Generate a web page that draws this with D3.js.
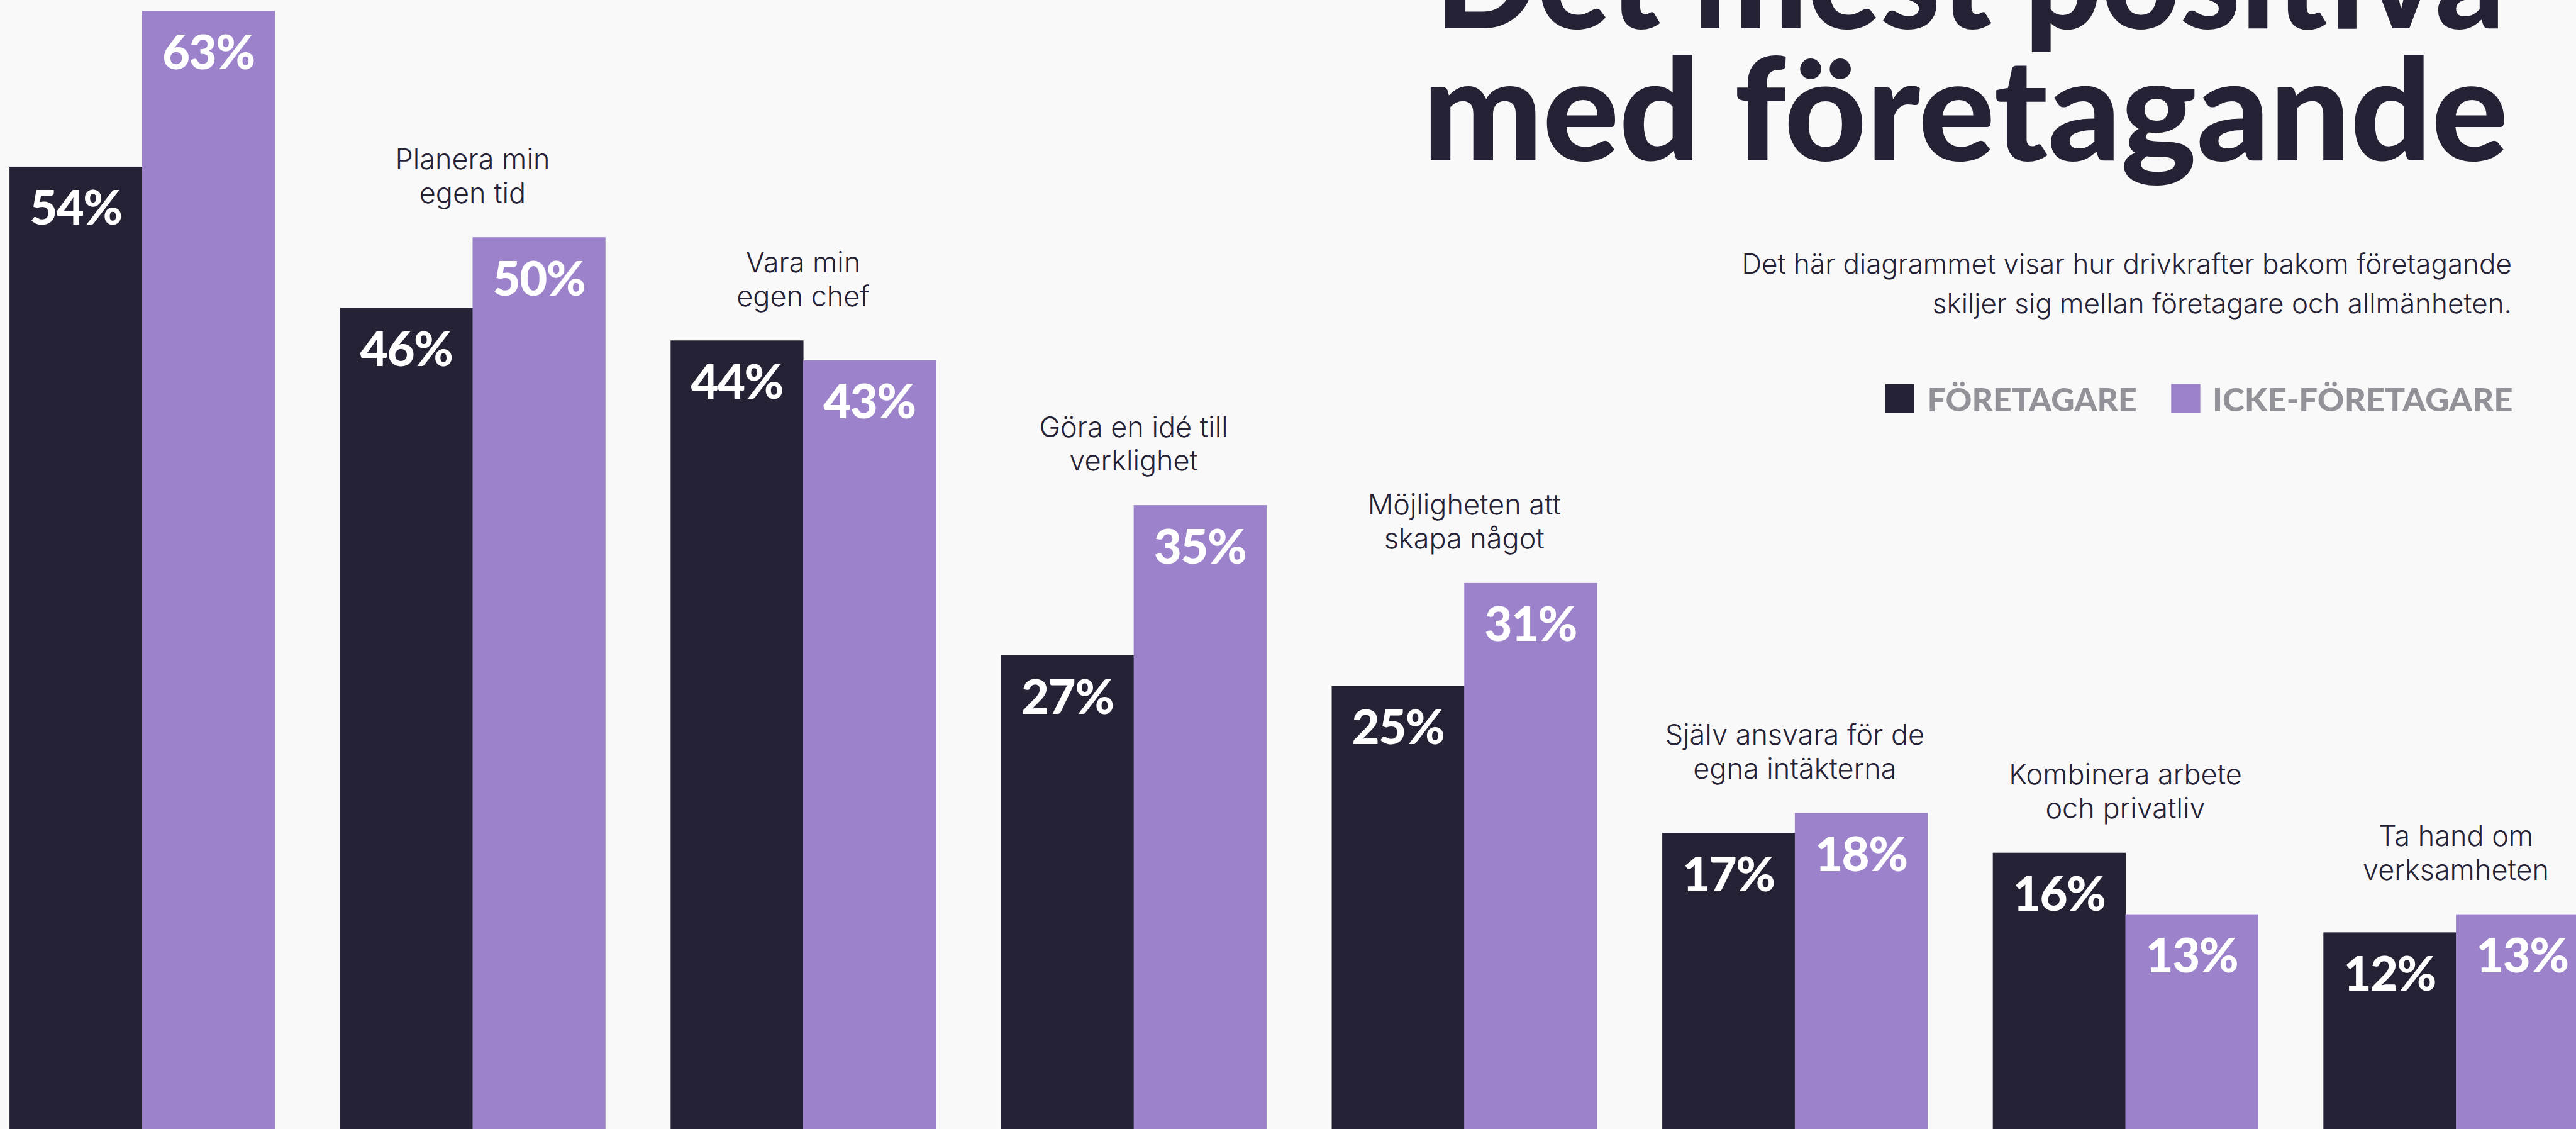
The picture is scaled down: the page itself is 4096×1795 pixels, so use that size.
<!DOCTYPE html>
<html><head><meta charset="utf-8">
<script src="https://cdn.jsdelivr.net/npm/d3@7"></script>
<style>html,body{margin:0;padding:0;background:#f9f9fa;overflow:hidden}</style>
</head><body><svg id="c" width="4096" height="1795"></svg>
<script>
// ---- data ----
const categories = [
  "",
  "Planera min\negen tid",
  "Vara min\negen chef",
  "Göra en idé till\nverklighet",
  "Möjligheten att\nskapa något",
  "Själv ansvara för de\negna intäkterna",
  "Kombinera arbete\noch privatliv",
  "Ta hand om\nverksamheten"
];
const seriesNames = ["FÖRETAGARE", "ICKE-FÖRETAGARE"];
const foretagare     = [53.9, 46.1, 44.3, 26.9, 25.2, 17.1, 16.0, 11.6];
const ickeForetagare = [62.5, 50.0, 43.2, 35.2, 30.9, 18.2, 12.6, 12.6];
const titleLines = ["Det mest positiva", "med företagande"];
const subtitleLines = ["Det här diagrammet visar hur drivkrafter bakom företagande",
                       "skiljer sig mellan företagare och allmänheten."];

// ---- style ----
const W = 4096, H = 1795;
const colors = ["#262235", "#9b82cb"];
const ink = "#262235";
const svg = d3.select("#c");
svg.append("rect").attr("width", W).attr("height", H).attr("fill", "#f9f9fa");

const rows = categories.map((c, i) => ({cat: c, idx: i, vals: [foretagare[i], ickeForetagare[i]]}));

const step = 525.6, pIn = 0.198, x0 = 15.1;
const x = d3.scaleBand().domain(d3.range(categories.length))
  .range([x0, x0 + step * (categories.length - pIn)])
  .paddingInner(pIn).paddingOuter(0);
const xs = d3.scaleBand().domain([0, 1]).range([0, x.bandwidth()]).padding(0);
const y = d3.scaleLinear().domain([0, 60]).range([1816.2, 1816.2 - 60 * 28.78]);

const g = svg.append("g").selectAll("g").data(rows).join("g")
  .attr("transform", d => `translate(${x(d.idx)},0)`);

g.selectAll("rect").data(d => d.vals.map((v, s) => ({v, s}))).join("rect")
  .attr("x", d => xs(d.s)).attr("width", xs.bandwidth() + 0.5)
  .attr("y", d => y(d.v)).attr("height", d => H + 50 - y(d.v))
  .attr("fill", d => colors[d.s]);

g.selectAll("text.val").data(d => d.vals.map((v, s) => ({v, s}))).join("text")
  .attr("class", "val")
  .attr("x", d => xs(d.s) + xs.bandwidth() / 2)
  .attr("y", d => y(d.v) + 92.5)
  .attr("text-anchor", "middle")
  .attr("font-family", "Lato, 'Noto Sans', sans-serif")
  .attr("font-weight", 900).attr("font-size", 76)
  .attr("letter-spacing", -1.5)
  .attr("fill", "#ffffff")
  .text(d => Math.round(d.v) + "%");

// category labels
g.each(function(d) {
  if (!d.cat) return;
  const top = y(d3.max(d.vals));
  const lines = d.cat.split("\n");
  const t = d3.select(this).append("text")
    .attr("text-anchor", "middle")
    .attr("font-family", "Inter, 'Noto Sans', sans-serif")
    .attr("font-weight", 300).attr("font-size", 45)
    .attr("fill", ink);
  lines.forEach((ln, k) => {
    t.append("tspan").attr("x", x.bandwidth() / 2)
      .attr("y", top - 54.7 - (lines.length - 1 - k) * 53.8)
      .text(ln);
  });
});

// title
const titleX = [2281, 2262], titleY = [44.6, 254.8], titleW = [1702, 1726];
titleLines.forEach((t, i) => {
  svg.append("text").attr("x", titleX[i]).attr("y", titleY[i])
    .attr("font-family", "Lato, 'Noto Sans', sans-serif")
    .attr("font-weight", 900).attr("font-size", 226)
    .attr("fill", ink)
    .attr("textLength", titleW[i]).attr("lengthAdjust", "spacingAndGlyphs")
    .text(t);
});

// subtitle
subtitleLines.forEach((t, i) => {
  svg.append("text").attr("x", 3994).attr("y", 434.8 + i * 63.1)
    .attr("text-anchor", "end")
    .attr("font-family", "Inter, 'Noto Sans', sans-serif")
    .attr("font-weight", 300).attr("font-size", 44)
    .attr("fill", ink).text(t);
});

// legend
const legX = [2997.7, 3452.3], legTX = [3064.6, 3517.9], legTW = [333, 477.7];
const leg = svg.append("g").selectAll("g").data(seriesNames).join("g");
leg.append("rect").attr("x", (d, i) => legX[i]).attr("y", 610.6)
  .attr("width", 46.3).attr("height", 45.4).attr("fill", (d, i) => colors[i]);
leg.append("text").attr("x", (d, i) => legTX[i]).attr("y", 653.5)
  .attr("font-family", "Lato, 'Noto Sans', sans-serif")
  .attr("font-weight", 900).attr("font-size", 51.5)
  .attr("fill", "#939299")
  .attr("textLength", (d, i) => legTW[i]).attr("lengthAdjust", "spacingAndGlyphs")
  .text(d => d);
</script></body></html>
